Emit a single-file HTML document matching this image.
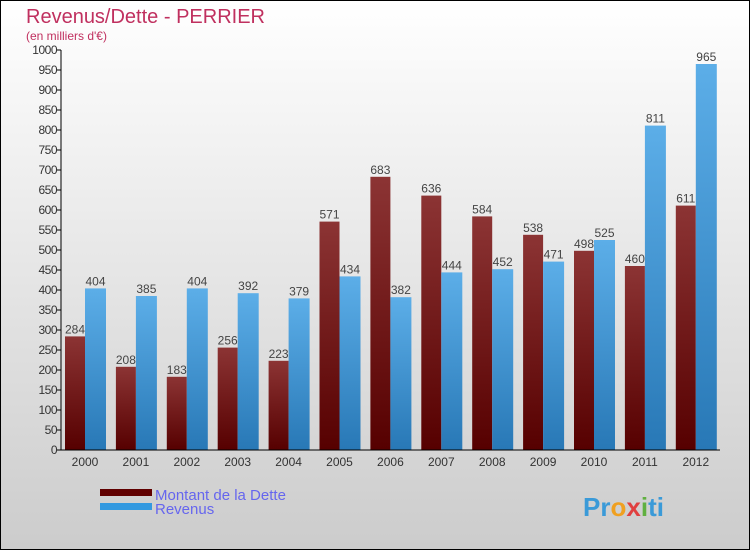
<!DOCTYPE html>
<html><head><meta charset="utf-8"><style>
body{margin:0}
svg{display:block;font-family:"Liberation Sans",sans-serif}
</style></head><body>
<svg id="c" width="750" height="550">
<defs>
<linearGradient id="bg" x1="0" y1="0" x2="0" y2="1"><stop offset="0" stop-color="#ffffff"/><stop offset="1" stop-color="#cccccc"/></linearGradient>
<linearGradient id="gd" x1="0" y1="0" x2="0" y2="1"><stop offset="0" stop-color="#8c3434"/><stop offset="1" stop-color="#560000"/></linearGradient>
<linearGradient id="gr" x1="0" y1="0" x2="0" y2="1"><stop offset="0" stop-color="#5caee8"/><stop offset="1" stop-color="#2878b6"/></linearGradient>
</defs>
<rect x="0.5" y="0.5" width="749" height="549" fill="url(#bg)" stroke="#000"/>
<text x="26" y="23" font-size="20" fill="#c0305f">Revenus/Dette - PERRIER</text>
<text x="26" y="40" font-size="12" fill="#c0305f">(en milliers d'€)</text>
<g id="bars"></g>
<g id="axis"></g>
<rect x="100" y="489" width="52" height="7" fill="#600000"/>
<rect x="100" y="503" width="52" height="7" fill="#3399e0"/>
<text x="155" y="500" font-size="15" fill="#6666ee">Montant de la Dette</text>
<text x="155" y="514" font-size="15" fill="#6666ee">Revenus</text>
<text x="583" y="516" font-size="26" font-weight="bold" fill="#3a9ad8">Pr<tspan fill="#f0a020">o</tspan><tspan fill="#e04040">x</tspan><tspan fill="#60b040">i</tspan>ti</text>
</svg>
<script>
const years=["2000","2001","2002","2003","2004","2005","2006","2007","2008","2009","2010","2011","2012"];
const dette=[284,208,183,256,223,571,683,636,584,538,498,460,611];
const revenus=[404,385,404,392,379,434,382,444,452,471,525,811,965];
const ticks=[0,50,100,150,200,250,300,350,400,450,500,550,600,650,700,750,800,850,900,950,1000];
const NS="http://www.w3.org/2000/svg";
const y=v=>450-v*0.4;
const xc=i=>85+i*50.9;
const bars=document.getElementById('bars'),axis=document.getElementById('axis');
function mk(tag,attrs,parent,txt){const e=document.createElementNS(NS,tag);for(const k in attrs)e.setAttribute(k,attrs[k]);if(txt!==undefined)e.textContent=txt;parent.appendChild(e);return e;}
years.forEach((yr,i)=>{
  const d=mk('rect',{x:xc(i)-20,y:y(dette[i]),width:20,height:450-y(dette[i]),fill:'url(#gd)'},bars);
  
  
  const r=mk('rect',{x:xc(i),y:y(revenus[i]),width:21,height:450-y(revenus[i]),fill:'url(#gr)'},bars);
  
  
  const t1=mk('text',{x:xc(i)-10,y:y(dette[i])-3,'font-size':12,fill:'#444','text-anchor':'middle'},bars,dette[i]);
  
  
  const t2=mk('text',{x:xc(i)+10.5,y:y(revenus[i])-3,'font-size':12,fill:'#444','text-anchor':'middle'},bars,revenus[i]);
  
  
  const xl=mk('text',{x:xc(i),y:466,'font-size':12,fill:'#333','text-anchor':'middle'},axis,yr);
  
  
});
ticks.forEach(t=>{
  const l=mk('line',{x1:57,x2:61,y1:y(t),y2:y(t),stroke:'#000'},axis);
  
  
  const tx=mk('text',{x:57,y:y(t)+4,'font-size':12,fill:'#333','text-anchor':'end','letter-spacing':'-0.5'},axis,t);
  
  
});
const ya=mk('line',{x1:61,x2:61,y1:50,y2:450,stroke:'#000'},axis);


const xa=mk('line',{x1:61,x2:720,y1:450,y2:450,stroke:'#000'},axis);


</script>
</body></html>
